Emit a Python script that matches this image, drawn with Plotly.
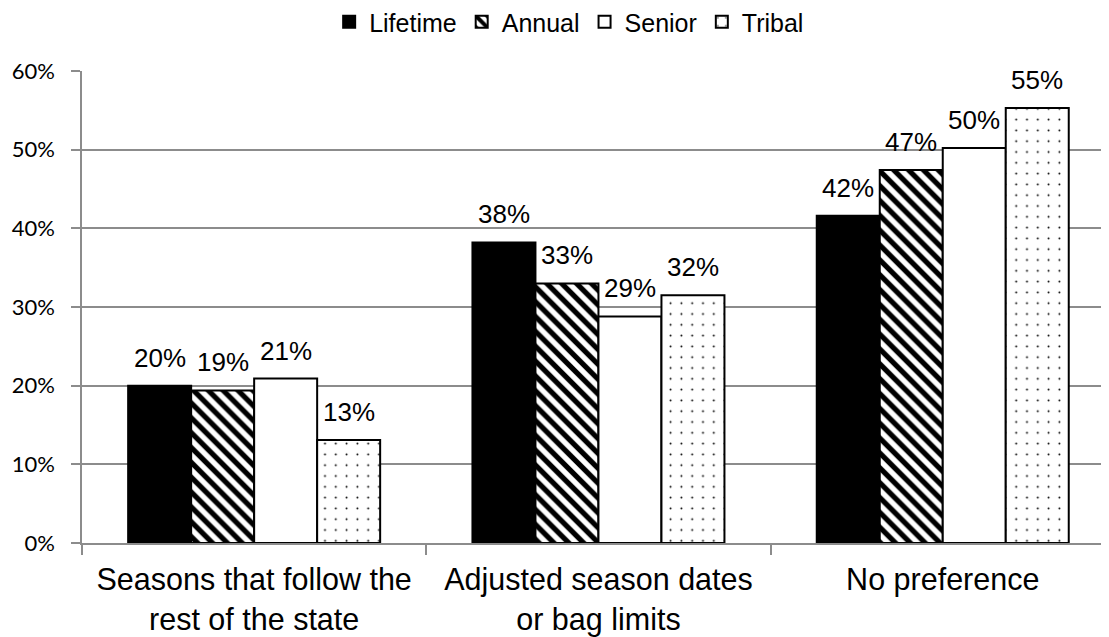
import plotly.graph_objects as go

categories = ["Seasons that follow the<br>rest of the state", "Adjusted season dates<br>or bag limits", "No preference"]
series_names = ["Lifetime", "Annual", "Senior", "Tribal"]
lifetime = [0.200, 0.382, 0.416]
annual = [0.194, 0.330, 0.474]
senior = [0.209, 0.288, 0.502]
tribal = [0.131, 0.315, 0.553]
value_labels = [["20%", "38%", "42%"], ["19%", "33%", "47%"], ["21%", "29%", "50%"], ["13%", "32%", "55%"]]
y_ticks = [0, 0.1, 0.2, 0.3, 0.4, 0.5, 0.6]
y_ticklabels = ["0%", "10%", "20%", "30%", "40%", "50%", "60%"]

W, H = 1109, 637
PAGE_OFF = 8  # default page body margin
M_L, M_R, M_T, M_B = 82 - PAGE_OFF, 0, 71 - PAGE_OFF, 94 + PAGE_OFF
CAT_PX = 344.3
BAR_PX = 63.0
x_max = -0.5 + (W - M_L - M_R) / CAT_PX

styles = [
    dict(color="black", pattern=dict(shape="")),
    dict(color="white", pattern=dict(shape="\\", fgcolor="black", bgcolor="white", fgopacity=1,
                                     size=10.5, solidity=0.5, fillmode="replace")),
    dict(color="white", pattern=dict(shape="")),
    dict(color="white", pattern=dict(shape=".", fgcolor="black", bgcolor="white", fgopacity=1,
                                     size=10.8, solidity=0.025, fillmode="replace")),
]

all_series = [lifetime, annual, senior, tribal]
fig = go.Figure()
for name, vals, st in zip(series_names, all_series, styles):
    fig.add_trace(go.Bar(
        x=categories, y=vals, name=name,
        marker=dict(color=st["color"], pattern=st["pattern"], line=dict(color="black", width=2)),
    ))

# value labels above each bar
n = len(series_names)
for i, (vals, labels) in enumerate(zip(all_series, value_labels)):
    for cat, v, lab in zip(categories, vals, labels):
        fig.add_annotation(x=cat, y=v, text=lab, showarrow=False,
                           xanchor="center", yanchor="bottom",
                           xshift=(i - (n - 1) / 2) * BAR_PX, yshift=11,
                           font=dict(family="Liberation Sans, Arial", size=26, color="black"))

fig.update_layout(
    width=W, height=H,
    barmode="group", bargap=1 - 4 * BAR_PX / CAT_PX, bargroupgap=0,
    plot_bgcolor="white", paper_bgcolor="white",
    margin=dict(l=M_L, r=M_R, t=M_T, b=M_B, autoexpand=False),
    font=dict(family="Liberation Sans, Arial", color="black"),
    showlegend=True,
    legend=dict(orientation="h", xref="container", yref="container",
                x=0.506, xanchor="center", y=1 - 14 / H, yanchor="middle",
                font=dict(size=25, family="Liberation Sans, Arial"), itemwidth=30,
                traceorder="normal", bgcolor="rgba(0,0,0,0)"),
)
fig.update_yaxes(range=[0, 0.6], tickvals=y_ticks, ticktext=y_ticklabels,
                 showgrid=True, gridcolor="#8c8c8c", gridwidth=1.5,
                 showline=True, linecolor="#8c8c8c", linewidth=1.5,
                 ticks="outside", ticklen=9, tickcolor="#8c8c8c", tickwidth=1.5,
                 ticklabelstandoff=12,
                 tickfont=dict(family="Lato, Open Sans", size=22, color="black"),
                 zeroline=False, automargin=False)
fig.update_xaxes(range=[-0.5, x_max],
                 showline=True, linecolor="#8c8c8c", linewidth=1.5,
                 ticks="outside", tickson="boundaries", ticklen=10, tickcolor="#8c8c8c", tickwidth=1.5,
                 ticklabelstandoff=9,
                 tickfont=dict(family="Liberation Sans, Arial", size=30.5, color="black"),
                 automargin=False)

fig.write_html("out.html")
